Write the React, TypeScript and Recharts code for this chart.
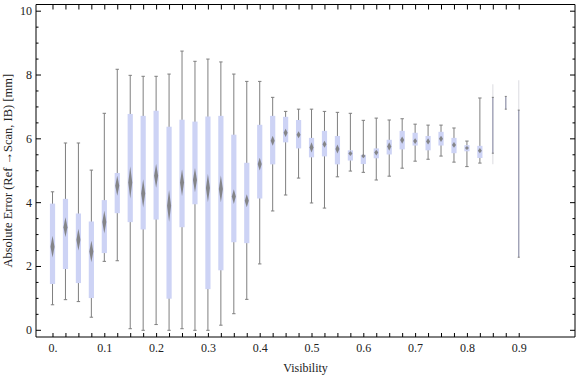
import React from 'react';
import { ComposedChart, Bar, XAxis, YAxis } from 'recharts';

const positions = [0, 0.025, 0.05, 0.075, 0.1, 0.125, 0.15, 0.175, 0.2, 0.225, 0.25, 0.275, 0.3, 0.325, 0.35, 0.375, 0.4, 0.425, 0.45, 0.475, 0.5, 0.525, 0.55, 0.575, 0.6, 0.625, 0.65, 0.675, 0.7, 0.725, 0.75, 0.775, 0.8, 0.825, 0.85, 0.875, 0.9];
const whiskerLow = [0.8, 0.96, 0.9, 0.41, 2.16, 2.18, 0.05, 0.0, 0.18, 0.0, 0.05, 0.0, 0.0, 0.16, 0.52, 0.97, 2.08, 3.74, 4.24, 4.77, 3.99, 3.83, 4.81, 4.99, 4.95, 4.71, 4.83, 5.08, 5.3, 5.36, 5.46, 5.27, 5.13, 5.24, 5.2, 6.93, 2.29];
const boxLow = [1.45, 1.92, 1.48, 1.01, 2.42, 3.67, 3.39, 3.16, 3.47, 0.99, 3.23, 3.95, 1.29, 1.88, 2.76, 2.73, 4.13, 5.2, 5.89, 5.7, 5.42, 5.45, 5.2, 5.32, 5.21, 5.39, 5.51, 5.67, 5.79, 5.64, 5.79, 5.55, 5.61, 5.4, 5.55, 6.93, 2.29];
const medians = [2.62, 3.23, 2.84, 2.47, 3.39, 4.53, 4.63, 4.29, 4.84, 3.9, 4.63, 4.71, 4.46, 4.43, 4.19, 4.06, 5.21, 5.94, 6.19, 6.13, 5.73, 5.83, 5.68, 5.54, 5.46, 5.57, 5.76, 5.96, 5.93, 5.92, 6.0, 5.81, 5.71, 5.63, 6.4, 7.1, 5.5];
const boxHigh = [3.97, 4.12, 3.66, 3.41, 4.08, 4.93, 6.78, 6.72, 6.88, 6.38, 6.6, 6.54, 6.7, 6.72, 6.13, 5.25, 6.44, 6.72, 6.69, 6.59, 6.03, 6.25, 6.09, 5.64, 5.5, 5.7, 5.97, 6.25, 6.19, 6.09, 6.22, 6.03, 5.8, 5.78, 7.3, 7.33, 6.9];
const whiskerHigh = [4.34, 5.87, 5.87, 5.02, 6.8, 8.18, 7.99, 7.96, 7.96, 8.03, 8.75, 8.43, 8.5, 8.41, 8.03, 7.8, 7.8, 7.3, 6.86, 6.93, 6.93, 6.86, 6.83, 6.8, 6.58, 6.65, 6.59, 6.63, 6.46, 6.43, 6.43, 6.34, 5.93, 7.28, 7.71, 7.33, 7.84];
const medianSpread = [0.34, 0.31, 0.34, 0.34, 0.36, 0.31, 0.5, 0.44, 0.375, 0.5, 0.42, 0.38, 0.44, 0.42, 0.23, 0.2, 0.2, 0.16, 0.13, 0.11, 0.16, 0.11, 0.14, 0.08, 0.07, 0.09, 0.13, 0.11, 0.09, 0.1, 0.1, 0.09, 0.06, 0.08, 0.05, 0.05, 0.05];
const sparsePositions = [0.85, 0.875, 0.9];

const xTicks = [0, 0.025, 0.05, 0.075, 0.1, 0.125, 0.15, 0.175, 0.2, 0.225, 0.25, 0.275, 0.3, 0.325, 0.35, 0.375, 0.4, 0.425, 0.45, 0.475, 0.5, 0.525, 0.55, 0.575, 0.6, 0.625, 0.65, 0.675, 0.7, 0.725, 0.75, 0.775, 0.8, 0.825, 0.85, 0.875, 0.9];
const xLabelValues = [0, 0.1, 0.2, 0.3, 0.4, 0.5, 0.6, 0.7, 0.8, 0.9];
const xLabelTexts = ['0.', '0.1', '0.2', '0.3', '0.4', '0.5', '0.6', '0.7', '0.8', '0.9'];
const yTicks = [0, 0.5, 1, 1.5, 2, 2.5, 3, 3.5, 4, 4.5, 5, 5.5, 6, 6.5, 7, 7.5, 8, 8.5, 9, 9.5, 10];
const yLabelValues = [0, 2, 4, 6, 8, 10];
const yLabelTexts = ['0', '2', '4', '6', '8', '10'];

const data = positions.map((x, i) => ({
  x,
  range: [whiskerLow[i], whiskerHigh[i]],
  q1: boxLow[i],
  med: medians[i],
  q3: boxHigh[i],
  spread: medianSpread[i],
  sparse: sparsePositions.some((s) => Math.abs(s - x) < 1e-6),
}));

const FONT = "'Liberation Serif', 'Times New Roman', serif";
const TEXT_COLOR = '#222';
const BOX_FILL = '#cdd3f5';
const WHISKER = '#7f7f7f';
const TICK_MARGIN = 5;

const findLabel = (values: number[], texts: string[], v: number) => {
  const i = values.findIndex((a) => Math.abs(a - v) < 1e-6);
  return i >= 0 ? texts[i] : null;
};

const LeftTick = (props: any) => {
  const { x, y, payload } = props;
  const edge = x + TICK_MARGIN;
  const label = findLabel(yLabelValues, yLabelTexts, payload.value);
  const len = label !== null ? 5 : 2.5;
  return (
    <g>
      <line x1={edge} x2={edge + len} y1={y} y2={y} stroke="#000" strokeWidth={1} />
      {label !== null && (
        <text x={edge - 4} y={y} textAnchor="end" dominantBaseline="central" fontFamily={FONT} fontSize={12} fill={TEXT_COLOR}>
          {label}
        </text>
      )}
    </g>
  );
};

const RightTick = (props: any) => {
  const { x, y, payload } = props;
  const edge = x - TICK_MARGIN;
  const major = findLabel(yLabelValues, yLabelTexts, payload.value) !== null;
  const len = major ? 5 : 2.5;
  return <line x1={edge} x2={edge - len} y1={y} y2={y} stroke="#000" strokeWidth={1} />;
};

const BottomTick = (props: any) => {
  const { x, y, payload } = props;
  const edge = y - TICK_MARGIN;
  const label = findLabel(xLabelValues, xLabelTexts, payload.value);
  return (
    <g>
      <line x1={x} x2={x} y1={edge} y2={edge - 4} stroke="#000" strokeWidth={1} />
      {label !== null && (
        <text x={x} y={edge + 14.7} textAnchor="middle" fontFamily={FONT} fontSize={12} fill={TEXT_COLOR}>
          {label}
        </text>
      )}
    </g>
  );
};

const TopTick = (props: any) => {
  const { x, y } = props;
  const edge = y + TICK_MARGIN;
  return <line x1={x} x2={x} y1={edge} y2={edge + 5} stroke="#000" strokeWidth={1} />;
};

const BoxShape = (props: any) => {
  const { x, y, width, height } = props;
  const p = props.payload ?? props;
  if (!p || !p.range) return null;
  const [vmin, vmax] = p.range;
  const top = Math.min(y, y + height);
  const bot = Math.max(y, y + height);
  const span = vmax - vmin;
  const k = span > 0 ? (bot - top) / span : 0;
  const py = (v: number) => top + (vmax - v) * k;
  const cx = x + width / 2;
  const capHalf = 1.7;

  if (p.sparse) {
    return (
      <g>
        <line x1={cx} x2={cx} y1={py(vmax)} y2={py(vmin)} stroke="#e2e2e6" strokeWidth={1.2} />
        <line x1={cx} x2={cx} y1={py(p.q3)} y2={py(p.q1)} stroke="#9799b0" strokeWidth={1.2} />
        <line x1={cx - 1} x2={cx + 1} y1={py(p.q3)} y2={py(p.q3)} stroke="#808080" strokeWidth={1} />
        <line x1={cx - 1} x2={cx + 1} y1={py(p.q1)} y2={py(p.q1)} stroke="#808080" strokeWidth={1} />
      </g>
    );
  }

  const boxW = 5.2;
  const yq3 = py(p.q3);
  const yq1 = py(p.q1);
  const ym = py(p.med);
  const dh = Math.max(2, p.spread * k);
  const dw = 2;
  return (
    <g>
      <line x1={cx} x2={cx} y1={py(vmax)} y2={py(vmin)} stroke={WHISKER} strokeWidth={1} />
      <line x1={cx - capHalf} x2={cx + capHalf} y1={py(vmax)} y2={py(vmax)} stroke={WHISKER} strokeWidth={1} />
      <line x1={cx - capHalf} x2={cx + capHalf} y1={py(vmin)} y2={py(vmin)} stroke={WHISKER} strokeWidth={1} />
      <rect x={cx - boxW / 2} y={yq3} width={boxW} height={Math.max(0.5, yq1 - yq3)} fill={BOX_FILL} />
      <polygon
        points={`${cx},${ym - dh} ${cx + dw},${ym} ${cx},${ym + dh} ${cx - dw},${ym}`}
        fill="#7c7c7c"
        opacity={0.9}
      />
    </g>
  );
};

export default function App() {
  return (
    <div style={{ position: 'absolute', left: 0, top: 0, width: 576, height: 377, background: '#fff' }}>
      <ComposedChart width={576} height={377} data={data} margin={{ top: 0, right: 0, bottom: 0, left: 0 }}>
        <XAxis
          xAxisId="bottom"
          dataKey="x"
          type="number"
          orientation="bottom"
          domain={[-0.0328, 1.0077]}
          allowDataOverflow
          ticks={xTicks}
          interval={0}
          height={40}
          tickSize={0}
          tickMargin={TICK_MARGIN}
          tickLine={false}
          axisLine={{ stroke: '#000' }}
          tick={<BottomTick />}
          label={{ value: 'Visibility', position: 'insideBottom', offset: 5, style: { fontFamily: FONT, fontSize: 12, fill: TEXT_COLOR } }}
        />
        <XAxis
          xAxisId="top"
          dataKey="x"
          type="number"
          orientation="top"
          domain={[-0.0328, 1.0077]}
          allowDataOverflow
          ticks={xTicks}
          interval={0}
          height={4.5}
          tickSize={0}
          tickMargin={TICK_MARGIN}
          tickLine={false}
          axisLine={{ stroke: '#000' }}
          tick={<TopTick />}
        />
        <YAxis
          yAxisId="left"
          type="number"
          orientation="left"
          domain={[-0.21, 10.21]}
          allowDataOverflow
          ticks={yTicks}
          interval={0}
          width={36}
          tickSize={0}
          tickMargin={TICK_MARGIN}
          tickLine={false}
          axisLine={{ stroke: '#000' }}
          tick={<LeftTick />}
          label={{
            value: 'Absolute Error (Ref →Scan, IB) [mm]',
            angle: -90,
            position: 'center',
            dx: -10,
            style: { fontFamily: FONT, fontSize: 12.5, fill: TEXT_COLOR },
          }}
        />
        <YAxis
          yAxisId="right"
          type="number"
          orientation="right"
          domain={[-0.21, 10.21]}
          allowDataOverflow
          ticks={yTicks}
          interval={0}
          width={1}
          tickSize={0}
          tickMargin={TICK_MARGIN}
          tickLine={false}
          axisLine={{ stroke: '#000' }}
          tick={<RightTick />}
        />
        <Bar
          xAxisId="bottom"
          yAxisId="left"
          dataKey="range"
          barSize={6}
          isAnimationActive={false}
          shape={<BoxShape />}
        />
      </ComposedChart>
    </div>
  );
}
